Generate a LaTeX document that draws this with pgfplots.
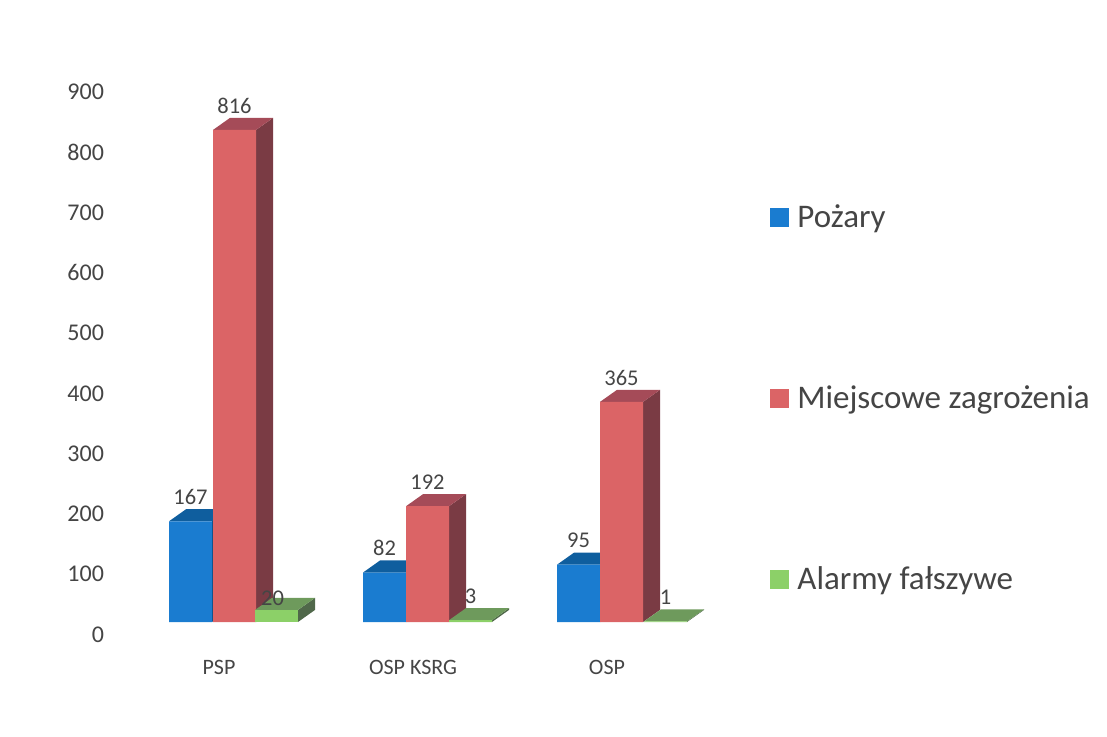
\documentclass[border=0pt]{standalone}
\usepackage{pgfplots}
\pgfplotsset{compat=1.18}
\usepackage{fontspec}
\setmainfont{Carlito}
\definecolor{bF}{HTML}{1A7CD0}\definecolor{bT}{HTML}{0F5E9E}\definecolor{bS}{HTML}{0D4F85}
\definecolor{rF}{HTML}{DB6466}\definecolor{rT}{HTML}{A54B58}\definecolor{rS}{HTML}{7A3B44}
\definecolor{gF}{HTML}{8CD068}\definecolor{gT}{HTML}{6E9A5C}\definecolor{gS}{HTML}{50684A}
\definecolor{txt}{HTML}{454545}
% 3D faces of a bar: colour letter, left x, value (dx=17px, dy=20 units)
\newcommand\faces[3]{%
  \pgfmathsetmacro\xa{#2}\pgfmathsetmacro\xb{#2+43}\pgfmathsetmacro\xc{#2+60}\pgfmathsetmacro\xd{#2+17}\pgfmathsetmacro\yt{#3+20}%
  \addplot[forget plot,draw=none,fill=#1S] coordinates {(\xb,0)(\xc,20)(\xc,\yt)(\xb,#3)} --cycle;
  \addplot[forget plot,draw=none,fill=#1T] coordinates {(\xa,#3)(\xb,#3)(\xc,\yt)(\xd,\yt)} --cycle;
}
\newcommand\fr[1]{\addplot[forget plot,ybar,bar width=43pt,bar shift=0pt,draw=none,fill=#1F,nodes near coords] }
\begin{document}
\begin{tikzpicture}[x=1pt,y=1pt]
\begin{axis}[
  at={(112pt,91pt)},anchor=south west,
  scale only axis,width=995pt,height=646pt,
  xmin=112,xmax=1107,ymin=-39.8,ymax=1031.5,
  clip=false,
  axis line style={draw=none},tick style={draw=none},
  xtick={219,413,607},xticklabels={PSP,OSP KSRG,OSP},
  ytick={0,100,...,900},
  yticklabel style={yshift=-12.5pt,text=txt,font=\fontsize{24}{26}\selectfont,/pgf/number format/assume math mode=true,xshift=-4.5pt},
  xticklabel style={text=txt,font=\fontsize{22}{24}\selectfont,yshift=-11pt},
  nodes near coords style={text=txt,font=\fontsize{22.5}{24}\selectfont,anchor=south,inner sep=1pt,yshift=15.5pt,/pgf/number format/assume math mode=true},
  legend cell align=left,
  legend style={draw=none,fill=none,at={(axis description cs:0.661,0.686)},anchor=north west,
    font=\fontsize{33}{35}\selectfont,text=txt,row sep=152.5pt,column sep=6.5pt,inner sep=0pt,
    nodes={inner sep=2pt}},
  legend image code/.code={\fill[#1,draw=none] (0pt,-10pt) rectangle (19pt,9pt);},
]
\faces{b}{169}{167}\faces{b}{363}{82}\faces{b}{557}{95}
\fr{b} coordinates {(190.5,167)(384.5,82)(578.5,95)};
\faces{r}{213}{816}\faces{r}{406}{192}\faces{r}{600}{365}
\fr{r} coordinates {(234.5,816)(427.5,192)(621.5,365)};
\faces{g}{255}{20}\faces{g}{449}{3}\faces{g}{644}{1}
\addplot[forget plot,ybar,bar width=43pt,bar shift=0pt,draw=none,fill=gF,nodes near coords,
  every node near coord/.append style={yshift=-12pt,xshift=-4pt}] coordinates {(276.5,20)};
\fr{g} coordinates {(470.5,3)(665.5,1)};
\addlegendimage{fill=bF}\addlegendentry{Pożary}
\addlegendimage{fill=rF}\addlegendentry{Miejscowe zagrożenia}
\addlegendimage{fill=gF}\addlegendentry{Alarmy fałszywe}
\path (axis cs:0,-190.7) rectangle (axis cs:1107,1031.5);
\end{axis}
\end{tikzpicture}
\end{document}
